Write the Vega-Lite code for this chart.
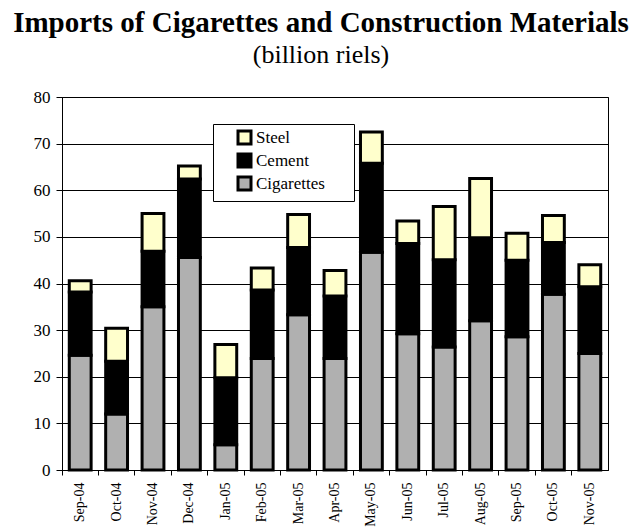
{
  "$schema": "https://vega.github.io/schema/vega-lite/v6.json",
  "width": 546,
  "height": 373,
  "autosize": {"type": "none"},
  "padding": {"left": 62, "top": 97, "right": 28, "bottom": 58},
  "background": "white",
  "title": {
    "text": "Imports of Cigarettes and Construction Materials",
    "subtitle": "(billion riels)",
    "font": "Liberation Serif",
    "fontSize": 29,
    "fontWeight": "bold",
    "color": "black",
    "subtitleFont": "Liberation Serif",
    "subtitleFontSize": 26,
    "subtitleColor": "black",
    "subtitlePadding": 4,
    "offset": 20,
    "dx": -14
  },
  "data": {
    "values": [
      {"month": "Sep-04", "type": "Cigarettes", "ord": 1, "value": 24.6},
      {"month": "Sep-04", "type": "Cement", "ord": 2, "value": 13.6},
      {"month": "Sep-04", "type": "Steel", "ord": 3, "value": 2.4},
      {"month": "Oct-04", "type": "Cigarettes", "ord": 1, "value": 12.0},
      {"month": "Oct-04", "type": "Cement", "ord": 2, "value": 11.3},
      {"month": "Oct-04", "type": "Steel", "ord": 3, "value": 7.1},
      {"month": "Nov-04", "type": "Cigarettes", "ord": 1, "value": 35.0},
      {"month": "Nov-04", "type": "Cement", "ord": 2, "value": 11.9},
      {"month": "Nov-04", "type": "Steel", "ord": 3, "value": 8.1},
      {"month": "Dec-04", "type": "Cigarettes", "ord": 1, "value": 45.6},
      {"month": "Dec-04", "type": "Cement", "ord": 2, "value": 16.8},
      {"month": "Dec-04", "type": "Steel", "ord": 3, "value": 2.8},
      {"month": "Jan-05", "type": "Cigarettes", "ord": 1, "value": 5.4},
      {"month": "Jan-05", "type": "Cement", "ord": 2, "value": 14.4},
      {"month": "Jan-05", "type": "Steel", "ord": 3, "value": 7.1},
      {"month": "Feb-05", "type": "Cigarettes", "ord": 1, "value": 23.9},
      {"month": "Feb-05", "type": "Cement", "ord": 2, "value": 14.7},
      {"month": "Feb-05", "type": "Steel", "ord": 3, "value": 4.7},
      {"month": "Mar-05", "type": "Cigarettes", "ord": 1, "value": 33.3},
      {"month": "Mar-05", "type": "Cement", "ord": 2, "value": 14.4},
      {"month": "Mar-05", "type": "Steel", "ord": 3, "value": 7.1},
      {"month": "Apr-05", "type": "Cigarettes", "ord": 1, "value": 23.9},
      {"month": "Apr-05", "type": "Cement", "ord": 2, "value": 13.4},
      {"month": "Apr-05", "type": "Steel", "ord": 3, "value": 5.5},
      {"month": "May-05", "type": "Cigarettes", "ord": 1, "value": 46.7},
      {"month": "May-05", "type": "Cement", "ord": 2, "value": 19.1},
      {"month": "May-05", "type": "Steel", "ord": 3, "value": 6.7},
      {"month": "Jun-05", "type": "Cigarettes", "ord": 1, "value": 29.2},
      {"month": "Jun-05", "type": "Cement", "ord": 2, "value": 19.4},
      {"month": "Jun-05", "type": "Steel", "ord": 3, "value": 4.8},
      {"month": "Jul-05", "type": "Cigarettes", "ord": 1, "value": 26.4},
      {"month": "Jul-05", "type": "Cement", "ord": 2, "value": 18.7},
      {"month": "Jul-05", "type": "Steel", "ord": 3, "value": 11.4},
      {"month": "Aug-05", "type": "Cigarettes", "ord": 1, "value": 32.0},
      {"month": "Aug-05", "type": "Cement", "ord": 2, "value": 17.8},
      {"month": "Aug-05", "type": "Steel", "ord": 3, "value": 12.7},
      {"month": "Sep-05", "type": "Cigarettes", "ord": 1, "value": 28.6},
      {"month": "Sep-05", "type": "Cement", "ord": 2, "value": 16.4},
      {"month": "Sep-05", "type": "Steel", "ord": 3, "value": 5.8},
      {"month": "Oct-05", "type": "Cigarettes", "ord": 1, "value": 37.7},
      {"month": "Oct-05", "type": "Cement", "ord": 2, "value": 11.1},
      {"month": "Oct-05", "type": "Steel", "ord": 3, "value": 5.8},
      {"month": "Nov-05", "type": "Cigarettes", "ord": 1, "value": 25.0},
      {"month": "Nov-05", "type": "Cement", "ord": 2, "value": 14.3},
      {"month": "Nov-05", "type": "Steel", "ord": 3, "value": 4.7}
    ]
  },
  "mark": {"type": "bar", "stroke": "black"},
  "encoding": {
    "x": {
      "field": "month",
      "type": "nominal",
      "sort": null,
      "scale": {"paddingInner": 0.4, "paddingOuter": 0.2},
      "axis": {
        "title": null,
        "labelAngle": -90,
        "labelFont": "Liberation Serif",
        "labelFontSize": 14,
        "labelColor": "black",
        "labelPadding": 7,
        "domainColor": "black",
        "tickColor": "black",
        "tickSize": 5,
        "bandPosition": -0.333,
        "grid": false
      }
    },
    "y": {
      "field": "value",
      "type": "quantitative",
      "aggregate": "sum",
      "stack": "zero",
      "scale": {"domain": [0, 80], "nice": false},
      "axis": {
        "title": null,
        "values": [0, 10, 20, 30, 40, 50, 60, 70, 80],
        "labelFont": "Liberation Serif",
        "labelFontSize": 17,
        "labelColor": "black",
        "labelPadding": 6,
        "domainColor": "black",
        "tickColor": "black",
        "tickSize": 6,
        "grid": true,
        "gridColor": "black",
        "gridOpacity": 1,
        "gridWidth": 1
      }
    },
    "color": {
      "field": "type",
      "type": "nominal",
      "scale": {"domain": ["Steel", "Cement", "Cigarettes"], "range": ["#ffffcc", "#000000", "#b0b0b0"]},
      "legend": {
        "title": null,
        "orient": "none",
        "legendX": 151,
        "legendY": 27,
        "fillColor": "white",
        "strokeColor": "black",
        "padding": 5,
        "symbolOffset": 18,
        "symbolType": "square",
        "symbolSize": 169,
        "symbolStrokeColor": "black",
        "symbolStrokeWidth": 2,
        "labelFont": "Liberation Serif",
        "labelFontSize": 17,
        "labelColor": "black",
        "labelOffset": 3,
        "rowPadding": -2,
        "labelExpr": "datum.label + '\u2800\u2800'"
      }
    },
    "strokeWidth": {
      "field": "type",
      "type": "nominal",
      "scale": {"domain": ["Steel", "Cement", "Cigarettes"], "range": [3, 3, 1]},
      "legend": null
    },
    "order": {"field": "ord", "type": "quantitative"}
  },
  "config": {
    "font": "Liberation Serif",
    "view": {"stroke": "black", "strokeWidth": 1},
    "axis": {"domainWidth": 1, "labelFont": "Liberation Serif"},
    "legend": {"labelFont": "Liberation Serif"}
  }
}
